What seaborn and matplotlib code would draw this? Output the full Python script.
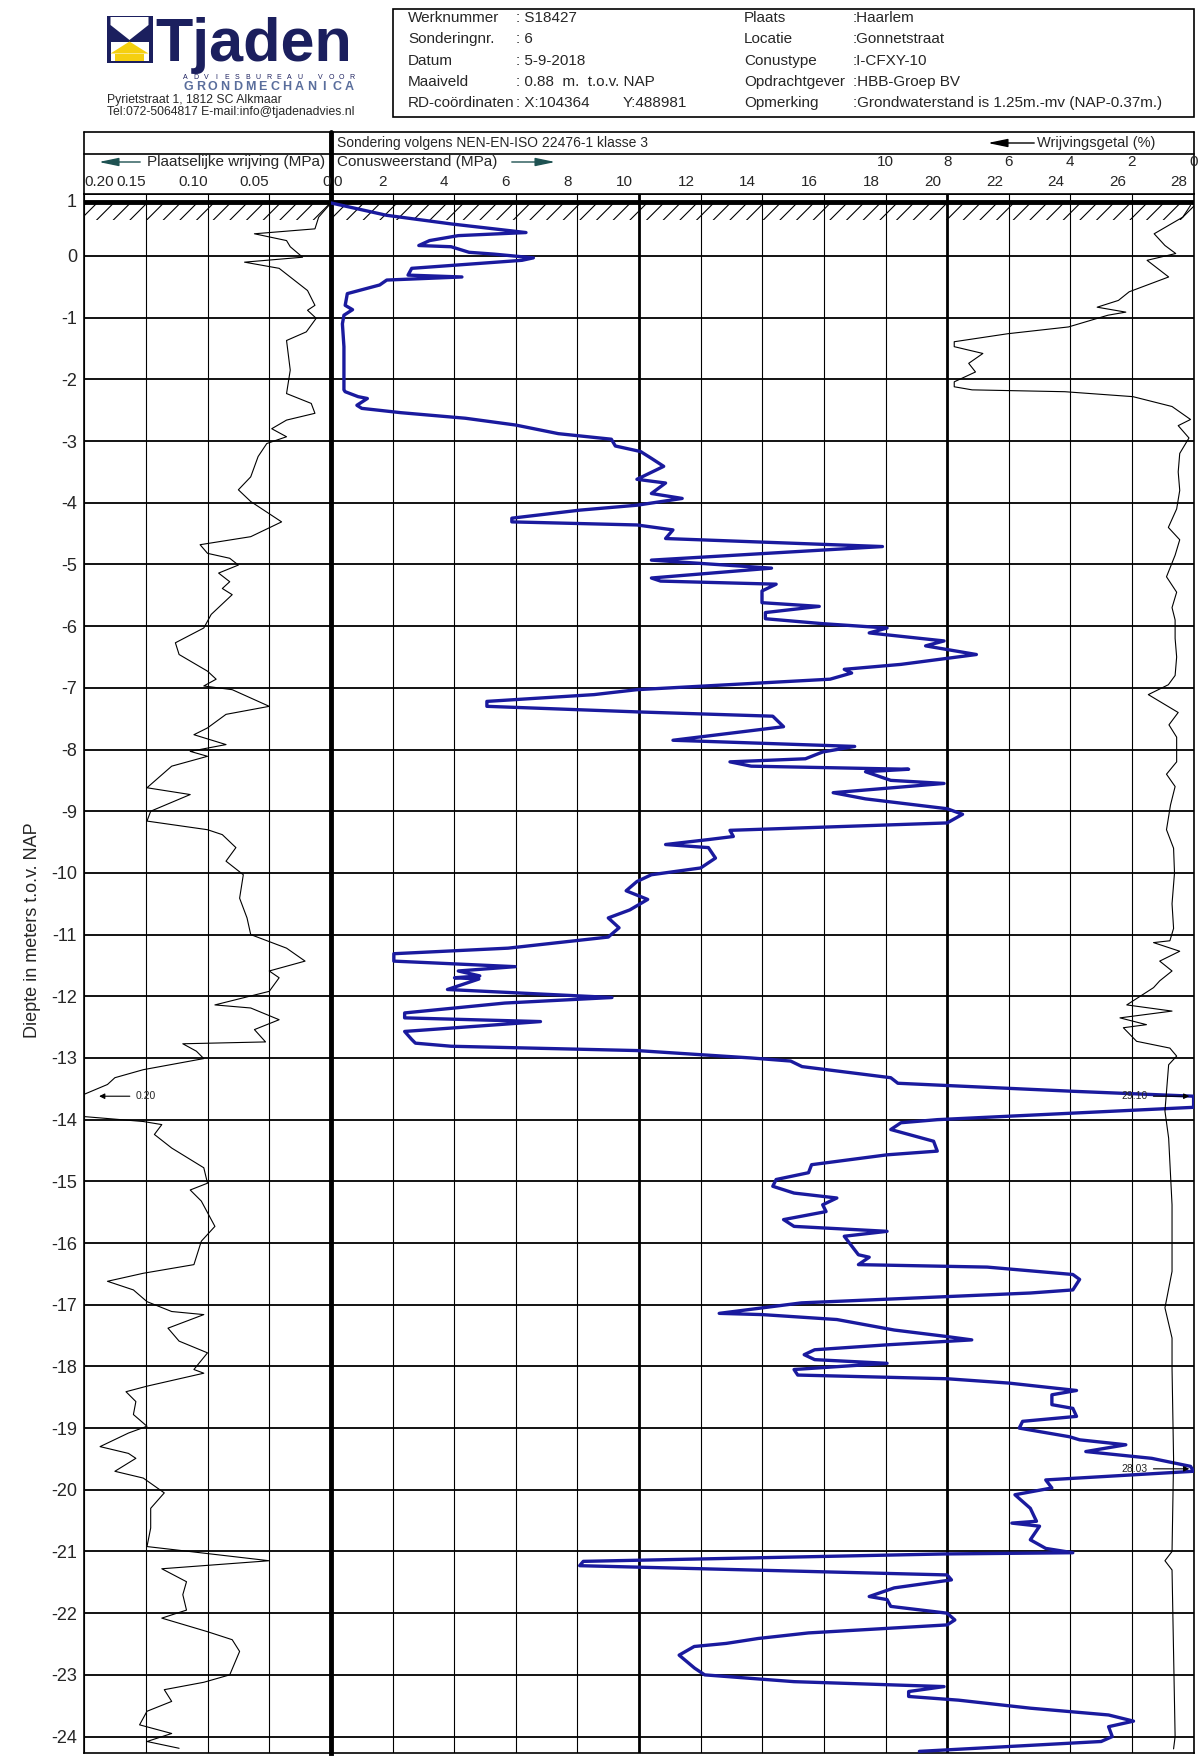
import numpy as np
import pandas as pd
import seaborn as sns
import matplotlib.pyplot as plt
from matplotlib.patches import Rectangle, Polygon
from matplotlib.transforms import ScaledTranslation

cone_depth = [0.86, 0.66, 0.52, 0.38, 0.33, 0.25, 0.17, 0.15, 0.06, 0.03, -0.03, -0.07, -0.20, -0.31, -0.34,
              -0.39, -0.47, -0.61, -0.80, -0.87, -0.96, -1.10, -1.47, -2.17, -2.20, -2.28, -2.31, -2.42, -2.47,
              -2.54, -2.63, -2.74, -2.88, -2.97, -3.08, -3.17, -3.28, -3.41, -3.62, -3.68, -3.85, -3.93, -4.04,
              -4.12, -4.25, -4.31, -4.36, -4.44, -4.58, -4.71, -4.93, -5.06, -5.22, -5.27, -5.32, -5.43, -5.62,
              -5.68, -5.78, -5.88, -5.96, -6.03, -6.11, -6.24, -6.32, -6.38, -6.46, -6.62, -6.70, -6.76, -6.86,
              -7.03, -7.11, -7.22, -7.30, -7.39, -7.46, -7.63, -7.85, -7.95, -8.04, -8.15, -8.20, -8.27, -8.32,
              -8.36, -8.50, -8.55, -8.70, -8.80, -8.96, -9.05, -9.19, -9.31, -9.41, -9.46, -9.54, -9.59, -9.76,
              -9.92, -10.03, -10.14, -10.29, -10.43, -10.60, -10.73, -10.89, -11.04, -11.22, -11.31, -11.43,
              -11.52, -11.59, -11.67, -11.70, -11.72, -11.89, -12.02, -12.11, -12.27, -12.35, -12.41, -12.57,
              -12.70, -12.76, -12.81, -12.88, -13.00, -13.05, -13.14, -13.32, -13.41, -13.54, -13.62, -13.80,
              -14.00, -14.05, -14.16, -14.35, -14.51, -14.57, -14.73, -14.86, -14.97, -15.08, -15.19, -15.27,
              -15.38, -15.49, -15.62, -15.73, -15.81, -15.89, -16.19, -16.23, -16.35, -16.39, -16.51, -16.59,
              -16.76, -16.81, -16.97, -17.14, -17.16, -17.24, -17.41, -17.51, -17.57, -17.65, -17.73, -17.81,
              -17.89, -17.95, -18.05, -18.14, -18.20, -18.27, -18.39, -18.46, -18.62, -18.68, -18.81, -18.89,
              -19.00, -19.14, -19.19, -19.27, -19.38, -19.49, -19.62, -19.70, -19.84, -19.97, -20.08, -20.30,
              -20.51, -20.54, -20.59, -20.81, -20.95, -21.02, -21.04, -21.16, -21.23, -21.38, -21.46, -21.59,
              -21.73, -21.78, -21.89, -22.00, -22.11, -22.19, -22.32, -22.41, -22.49, -22.54, -22.68, -22.89,
              -23.00, -23.11, -23.19, -23.27, -23.35, -23.41, -23.54, -23.65, -23.75, -23.84, -24.00, -24.08,
              -24.24]
cone_qc = [0.0, 1.8, 3.9, 6.33, 4.13, 3.2, 2.85, 3.9, 4.48, 5.3, 6.57, 6.2, 2.62, 2.5, 4.25,
           1.81, 1.58, 0.53, 0.46, 0.7, 0.42, 0.37, 0.42, 0.42, 0.46, 0.88, 1.18, 0.84, 1.0,
           2.27, 4.36, 5.99, 7.38, 9.1, 9.23, 10.05, 10.4, 10.8, 9.93, 10.86, 10.4, 11.4, 9.93,
           8.07, 5.87, 5.87, 9.93, 11.1, 10.86, 17.9, 10.4, 14.3, 10.4, 10.7, 14.45, 13.99, 13.99,
           15.85, 14.1, 14.1, 15.96, 18.05, 17.47, 19.9, 19.3, 20.0, 20.95, 18.5, 16.66, 16.9, 16.2,
           9.93, 8.54, 5.06, 5.06, 9.93, 14.34, 14.69, 11.1, 17.0, 15.96, 15.4, 12.95, 13.64, 18.75,
           17.35, 18.17, 19.9, 16.3, 17.35, 20.0, 20.5, 20.0, 12.95, 13.06, 12.25, 10.86, 12.25, 12.48,
           12.0, 10.4, 9.93, 9.58, 10.28, 9.7, 9.0, 9.35, 9.0, 5.75, 2.04, 2.04,
           5.98, 4.13, 4.83, 4.01, 4.8, 3.78, 9.12, 5.64, 2.39, 2.39, 6.8, 2.39,
           2.62, 2.74, 3.9, 9.93, 13.64, 14.92, 15.29, 18.17, 18.4, 24.08, 28.0, 28.0,
           19.68, 18.5, 18.17, 19.56, 19.68, 18.05, 15.6, 15.5, 14.45, 14.34, 15.03, 16.42,
           15.96, 16.07, 14.69, 15.03, 18.05, 16.66, 17.12, 17.47, 17.12, 21.3, 24.08, 24.3,
           24.08, 22.7, 15.27, 12.6, 14.0, 16.42, 18.28, 19.9, 20.8, 18.05, 15.7, 15.36,
           15.7, 18.05, 15.03, 15.15, 20.0, 22.0, 24.2, 23.4, 23.4, 24.08, 24.2, 22.45,
           22.34, 23.97, 24.3, 25.8, 24.5, 26.64, 27.9, 28.0, 23.2, 23.4, 22.2, 22.7,
           22.9, 22.1, 23.0, 22.7, 23.2, 24.08, 19.9, 8.19, 8.07, 20.0, 20.14, 18.28,
           17.47, 18.05, 18.17, 20.0, 20.25, 20.0, 15.5, 13.87, 12.83, 11.79, 11.3, 11.8,
           12.13, 15.03, 19.9, 18.75, 18.75, 20.37, 22.7, 25.24, 26.05, 25.24, 25.36, 25.0,
           19.1]

wrijving_depth = [0.86, 0.63, 0.44, 0.36, 0.25, 0.15, -0.02, -0.10, -0.20, -0.56, -0.80, -0.88, -1.01, -1.23,
                  -1.37, -1.85, -2.23, -2.39, -2.55, -2.66, -2.80, -2.93, -3.04, -3.25, -3.58, -3.79, -3.98,
                  -4.31, -4.55, -4.68, -4.82, -4.90, -5.01, -5.14, -5.28, -5.39, -5.49, -5.81, -6.03, -6.27,
                  -6.46, -6.73, -6.86, -6.97, -7.03, -7.30, -7.43, -7.65, -7.76, -7.92, -8.03, -8.11, -8.27,
                  -8.62, -8.73, -9.00, -9.16, -9.30, -9.38, -9.59, -9.81, -10.03, -10.41, -10.73, -11.00,
                  -11.22, -11.43, -11.59, -11.70, -11.92, -12.14, -12.19, -12.38, -12.54, -12.74, -12.77,
                  -12.89, -13.01, -13.19, -13.32, -13.43, -13.59, -13.95, -14.03, -14.08, -14.24, -14.46,
                  -14.78, -15.03, -15.14, -15.32, -15.73, -15.97, -16.35, -16.49, -16.62, -16.76, -16.95,
                  -17.11, -17.16, -17.38, -17.59, -17.78, -18.05, -18.11, -18.32, -18.41, -18.57, -18.78,
                  -18.97, -19.08, -19.30, -19.41, -19.49, -19.70, -19.81, -20.05, -20.30, -20.62, -20.92,
                  -21.15, -21.28, -21.49, -21.70, -21.95, -22.08, -22.30, -22.43, -22.62, -23.00, -23.12,
                  -23.24, -23.43, -23.59, -23.81, -23.95, -24.08, -24.19]
wrijving_fs = [0.0, 0.01, 0.013, 0.062, 0.036, 0.033, 0.023, 0.070, 0.042, 0.019, 0.013, 0.019, 0.012, 0.020,
               0.036, 0.033, 0.036, 0.016, 0.013, 0.036, 0.048, 0.036, 0.052, 0.059, 0.065, 0.075, 0.065,
               0.040, 0.065, 0.106, 0.100, 0.082, 0.075, 0.091, 0.082, 0.088, 0.080, 0.097, 0.103, 0.126,
               0.123, 0.100, 0.093, 0.103, 0.080, 0.050, 0.085, 0.100, 0.111, 0.085, 0.114, 0.100, 0.129,
               0.149, 0.114, 0.146, 0.149, 0.100, 0.088, 0.077, 0.085, 0.071, 0.074, 0.068, 0.065,
               0.036, 0.021, 0.050, 0.042, 0.050, 0.094, 0.065, 0.042, 0.062, 0.053, 0.120,
               0.109, 0.103, 0.152, 0.175, 0.181, 0.200, 0.200, 0.152, 0.137, 0.143, 0.129,
               0.103, 0.100, 0.114, 0.105, 0.094, 0.105, 0.111, 0.152, 0.181, 0.160, 0.149,
               0.129, 0.103, 0.132, 0.123, 0.100, 0.111, 0.103, 0.149, 0.166, 0.158, 0.160,
               0.149, 0.164, 0.187, 0.164, 0.158, 0.175, 0.152, 0.135, 0.146, 0.146, 0.149,
               0.050, 0.137, 0.117, 0.120, 0.117, 0.137, 0.100, 0.080, 0.074, 0.082, 0.103,
               0.135, 0.129, 0.149, 0.155, 0.129, 0.149, 0.123]

getal_depth = [0.82, 0.63, 0.36, 0.17, 0.04, -0.07, -0.34, -0.58, -0.72, -0.83, -0.91, -0.96, -1.15, -1.26,
               -1.39, -1.47, -1.58, -1.74, -1.88, -2.04, -2.12, -2.17, -2.20, -2.28, -2.44, -2.65, -2.75,
               -2.95, -3.20, -3.50, -3.80, -4.10, -4.40, -4.60, -4.85, -5.20, -5.45, -5.70, -5.90, -6.20,
               -6.50, -6.80, -6.95, -7.11, -7.40, -7.60, -7.80, -8.20, -8.40, -8.60, -8.90, -9.30, -9.60,
               -10.00, -10.50, -10.90, -11.10, -11.13, -11.27, -11.43, -11.59, -11.75, -11.86, -12.14,
               -12.24, -12.35, -12.46, -12.51, -12.73, -12.84, -12.97, -13.11, -13.86, -14.30, -15.38,
               -16.46, -17.05, -17.54, -18.03, -19.50, -21.00, -21.15, -21.30, -24.00, -24.20]
getal_rf = [0.1, 0.35, 1.28, 0.93, 0.58, 1.51, 0.81, 2.09, 2.44, 3.13, 2.2, 2.78, 4.06, 6.03,
            7.77, 7.77, 6.84, 7.3, 7.08, 7.77, 7.77, 7.19, 4.18, 1.97, 0.7, 0.1, 0.5,
            0.15, 0.45, 0.5, 0.45, 0.55, 0.82, 0.45, 0.6, 0.88, 0.55, 0.7, 0.6, 0.6,
            0.55, 0.6, 0.82, 1.47, 0.5, 0.8, 0.55, 0.55, 0.88, 0.6, 0.75, 0.88, 0.65,
            0.62, 0.7, 0.65, 0.77, 1.3, 0.45, 1.1, 0.7, 1.1, 1.3, 2.17,
            0.7, 2.39, 1.53, 2.28, 1.85, 0.77, 0.55, 0.81, 0.93, 0.81, 0.7,
            0.7, 0.93, 0.7, 0.7, 0.65, 0.7, 0.93, 0.7, 0.6, 0.65]

maaiveld = 0.88
niveaus = list(range(-24, 2))
qc_ticks = list(range(0, 29, 2))
fs_ticks = [0.20, 0.15, 0.10, 0.05, 0.0]
fs_labels = ['0.20', '0.15', '0.10', '0.05', '0']
rf_ticks = [10, 8, 6, 4, 2, 0]

kop_links = [('Werknummer', ': S18427'), ('Sonderingnr.', ': 6'), ('Datum', ': 5-9-2018'),
             ('Maaiveld', ': 0.88  m.  t.o.v. NAP'), ('RD-coördinaten', ': X:104364')]
kop_rechts = [('Plaats', ':Haarlem'), ('Locatie', ':Gonnetstraat'), ('Conustype', ':I-CFXY-10'),
              ('Opdrachtgever', ':HBB-Groep BV'),
              ('Opmerking', ':Grondwaterstand is 1.25m.-mv (NAP-0.37m.)')]

sns.set_style('white')
plt.rcParams['font.family'] = ['Liberation Sans', 'DejaVu Sans']
plt.rcParams['axes.unicode_minus'] = False
plt.rcParams['hatch.linewidth'] = 0.8

NAVY = '#1b1f5e'
BLAUW = '#1a1a9e'
TEAL = '#1e5252'

W, H = 1200, 1759
fig = plt.figure(figsize=(W / 100, H / 100), dpi=100)

# overlay in pixel-coordinaten voor kop en logo
ov = fig.add_axes([0, 0, 1, 1])
ov.set_xlim(0, W)
ov.set_ylim(H, 0)
ov.axis('off')


def box(l, t, r, b):
    return [l / W, 1 - b / H, (r - l) / W, (b - t) / H]


L, M, R, T, B = 84, 331, 1193.6, 194.3, 1752.6
ax_f = fig.add_axes(box(L, T, M, B))
ax_c = fig.add_axes(box(M, T, R, B), sharey=ax_f)
ax_r = ax_c.twiny()

# --- logo ---
ov.add_patch(Rectangle((106.7, 16), 46, 47, color=NAVY, lw=0))
ov.add_patch(Polygon([(110.5, 17), (148.5, 17), (148.5, 25), (129.5, 40), (110.5, 25)], color='white', lw=0))
ov.add_patch(Rectangle((110.5, 42), 38, 19, color='white', lw=0))
ov.add_patch(Polygon([(110.5, 53.5), (148.5, 53.5), (129.5, 41.5)], color='#f5cf0f', lw=0))
ov.add_patch(Rectangle((115, 53.5), 29, 7.5, color='#f5cf0f', lw=0))
ov.text(155, 60.5, 'Tjaden', fontsize=44, fontweight='bold', color=NAVY, va='baseline', ha='left')
for xp, ch in zip(np.linspace(185, 352, 17), 'ADVIESBUREAU VOOR'):
    ov.text(xp, 77, ch, fontsize=5, color=NAVY, ha='center', va='center')
for xp, ch in zip(np.linspace(188, 349, 14), 'GRONDMECHANICA'):
    ov.text(xp, 87, ch, fontsize=9, fontweight='bold', color='#5a6e9c', ha='center', va='center')
ov.text(107, 100, 'Pyrietstraat 1, 1812 SC Alkmaar', fontsize=8.8, va='center')
ov.text(107, 111.5, 'Tel:072-5064817 E-mail:info@tjadenadvies.nl', fontsize=8.8, va='center')

# --- kopgegevens ---
ov.add_patch(Rectangle((392.5, 9.3), 801, 107.7, fill=False, lw=1.2, ec='black'))
rij_y = [18, 39, 61, 82, 103]
for y, (lab, val) in zip(rij_y, kop_links):
    ov.text(408, y, lab, fontsize=11, va='center')
    ov.text(516, y, val, fontsize=11, va='center')
ov.text(623, rij_y[-1], 'Y:488981', fontsize=11, va='center')
for y, (lab, val) in zip(rij_y, kop_rechts):
    ov.text(744, y, lab, fontsize=11, va='center')
    ov.text(853, y, val, fontsize=11, va='center')

# --- kader boven de grafiek ---
for yy in (132, 154):
    ov.plot([L, R], [yy, yy], color='black', lw=1.2)
ov.plot([L, L], [132, T], color='black', lw=1.2)
ov.plot([R, R], [132, T], color='black', lw=1.2)
ov.plot([M, M], [132, T], color='black', lw=3.5)
ov.text(337, 143, 'Sondering volgens NEN-EN-ISO 22476-1 klasse 3', fontsize=10, va='center')
ov.text(1037, 143, 'Wrijvingsgetal (%)', fontsize=10.5, va='center')
ov.annotate('', xy=(985, 143), xytext=(1037, 143),
            arrowprops=dict(arrowstyle='-|>,head_length=1.2,head_width=0.25', color='black', lw=1))
ov.text(325, 162, 'Plaatselijke wrijving (MPa)', fontsize=11, va='center', ha='right')
ov.annotate('', xy=(96, 162), xytext=(143, 162),
            arrowprops=dict(arrowstyle='-|>,head_length=1.2,head_width=0.25', color=TEAL, lw=1))
ov.text(337, 162, 'Conusweerstand (MPa)', fontsize=11, va='center', ha='left')
ov.annotate('', xy=(558, 162), xytext=(509, 162),
            arrowprops=dict(arrowstyle='-|>,head_length=1.2,head_width=0.25', color=TEAL, lw=1))
ov.text(33, 930, 'Diepte in meters t.o.v. NAP', fontsize=13, rotation=90, ha='center', va='center')

# --- data ---
df_f = pd.DataFrame({'diepte': wrijving_depth, 'fs': wrijving_fs})
df_c = pd.DataFrame({'diepte': cone_depth, 'qc': cone_qc})
df_r = pd.DataFrame({'diepte': getal_depth, 'rf': getal_rf})

sns.lineplot(data=df_f, x='fs', y='diepte', ax=ax_f, sort=False, estimator=None, color='black', lw=0.8, zorder=4)
sns.lineplot(data=df_c, x='qc', y='diepte', ax=ax_c, sort=False, estimator=None, color=BLAUW, lw=2.4, zorder=5)
sns.lineplot(data=df_r, x='rf', y='diepte', ax=ax_r, sort=False, estimator=None, color='black', lw=0.8, zorder=4)

# friction axis
ax_f.set_xlim(0.2, 0)
ax_f.set_ylim(-24.26, 1.0)
ax_f.set_xticks(fs_ticks)
ax_f.set_xticklabels(fs_labels)
ax_f.xaxis.tick_top()
ax_f.tick_params(axis='x', length=0, pad=3.5, labelsize=11)
for i, lab in enumerate(ax_f.get_xticklabels()):
    lab.set_ha('left' if i == 0 else 'right')
ax_f.set_yticks(niveaus)
ax_f.set_yticklabels([str(v) for v in niveaus])
ax_f.tick_params(axis='y', length=0, pad=5, labelsize=13)
ax_f.get_yticklabels()[-1].set_va('top')
ax_f.grid(axis='x', color='black', lw=0.8)
ax_f.grid(axis='y', color='black', lw=1.3)
ax_f.set_xlabel('')
ax_f.set_ylabel('')

# cone axis
ax_c.set_xlim(0, 28)
ax_c.set_xticks(qc_ticks)
ax_c.set_xticklabels([str(v) for v in qc_ticks])
ax_c.xaxis.tick_top()
ax_c.tick_params(axis='x', length=0, pad=3.5, labelsize=11)
for i, lab in enumerate(ax_c.get_xticklabels()):
    if i == 0:
        lab.set_ha('left')
        lab.set_transform(lab.get_transform() + ScaledTranslation(2 / 100, 0, fig.dpi_scale_trans))
    else:
        lab.set_ha('right')
        lab.set_transform(lab.get_transform() + ScaledTranslation(-6 / 100, 0, fig.dpi_scale_trans))
ax_c.tick_params(axis='y', labelleft=False, length=0)
ax_c.grid(axis='x', color='black', lw=0.8)
ax_c.grid(axis='y', color='black', lw=1.3)
ax_c.axvline(10, color='black', lw=2, zorder=1.5)
ax_c.axvline(20, color='black', lw=2, zorder=1.5)
ax_c.set_xlabel('')
ax_c.set_ylabel('')

# ratio axis
ax_r.set_xlim(28, 0)
ax_r.set_xticks(rf_ticks)
ax_r.set_xticklabels([str(v) for v in rf_ticks])
ax_r.tick_params(axis='x', length=0, pad=18, labelsize=11)
ax_r.set_xlabel('')
for sp in ax_r.spines.values():
    sp.set_visible(False)

for ax in (ax_f, ax_c):
    ax.set_axisbelow(True)
    for sp in ax.spines.values():
        sp.set_color('black')
        sp.set_linewidth(1.2)
    ax.axhline(maaiveld, color='black', lw=3.5, zorder=3)
    ax.axhspan(0.58, 0.86, hatch='//', fill=False, lw=0, edgecolor='black', zorder=2)
ax_c.spines['left'].set_linewidth(3.5)

# afgekapte waarden
ax_f.annotate('0.20', xy=(0.19, -13.62), xytext=(0.158, -13.62), ha='left', va='center', fontsize=7.5,
              arrowprops=dict(arrowstyle='-|>', color='black', lw=0.8, mutation_scale=8))
for waarde, niveau in (('29.10', -13.62), ('28.03', -19.66)):
    ax_c.annotate(waarde, xy=(27.95, niveau), xytext=(26.5, niveau), ha='right', va='center', fontsize=7.5,
                  arrowprops=dict(arrowstyle='-|>', color='black', lw=0.8, mutation_scale=8), zorder=6)

fig.savefig('out.png', dpi=100, facecolor='white')
